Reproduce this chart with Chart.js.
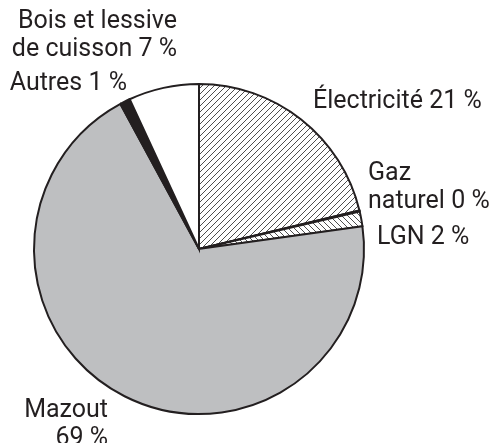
<!DOCTYPE html>
<html>
<head>
<meta charset="utf-8">
<script src="https://cdn.jsdelivr.net/npm/chart.js@4.4.1/dist/chart.umd.min.js"></script>
<style>
  html, body { margin: 0; padding: 0; background: #fff; }
  #wrap { width: 496px; height: 443px; position: relative; }
</style>
</head>
<body>
<div id="wrap"><canvas id="energy-pie"></canvas></div>
<script>
// Parts de consommation d'énergie (%), dans le sens horaire depuis midi
const categories = ['Électricité', 'Gaz naturel', 'LGN', 'Mazout', 'Autres', 'Bois et lessive de cuisson'];
const shares = [21.25, 0.1, 1.45, 69.3, 1.0, 6.9];
const shownPct = [21, 0, 2, 69, 1, 7];
// Texte des étiquettes, ligne par ligne
const labelLines = [
    ['Électricité ' + shownPct[0] + ' %'],
    ['Gaz', 'naturel ' + shownPct[1] + ' %'],
    ['LGN ' + shownPct[2] + ' %'],
    ['Mazout', shownPct[3] + ' %'],
    ['Autres ' + shownPct[4] + ' %'],
    ['Bois et lessive', 'de cuisson ' + shownPct[5] + ' %']
];

// Position des étiquettes par rapport au centre du camembert
const labelPlace = [
    { dx: 114, dy: -141, align: 'left' },
    { dx: 169, dy: -69, align: 'left' },
    { dx: 178, dy: -5, align: 'left' },
    { dx: -91, dy: 168, align: 'right' },
    { dx: -72, dy: -159, align: 'right' },
    { dx: -22, dy: -221, align: 'right' }
];

function hatch(size, dir) {
    const c = document.createElement('canvas');
    c.width = size; c.height = size;
    const g = c.getContext('2d');
    g.fillStyle = '#fff';
    g.fillRect(0, 0, size, size);
    g.strokeStyle = '#3a3a3a';
    g.lineWidth = 0.9;
    g.beginPath();
    if (dir === '/') {
        g.moveTo(-1, size + 1); g.lineTo(size + 1, -1);
        g.moveTo(-1, 1); g.lineTo(1, -1);
        g.moveTo(size - 1, size + 1); g.lineTo(size + 1, size - 1);
    } else {
        g.moveTo(-1, -1); g.lineTo(size + 1, size + 1);
        g.moveTo(size - 1, -1); g.lineTo(size + 1, 1);
        g.moveTo(-1, size - 1); g.lineTo(1, size + 1);
    }
    g.stroke();
    return g.createPattern(c, 'repeat');
}

const fills = [hatch(6, '/'), '#231f20', hatch(6, '\\'), '#bebfc1', '#231f20', '#ffffff'];

const sliceLabels = {
    id: 'sliceLabels',
    afterDraw(chart) {
        const arc = chart.getDatasetMeta(0).data[0];
        const ctx = chart.ctx;
        ctx.save();
        ctx.font = '25px Roboto';
        ctx.fillStyle = '#231f20';
        ctx.textBaseline = 'alphabetic';
        labelLines.forEach((lines, i) => {
            const p = labelPlace[i];
            ctx.textAlign = p.align;
            lines.forEach((t, j) => ctx.fillText(t, arc.x + p.dx, arc.y + p.dy + j * 28));
        });
        ctx.restore();
    }
};

const ctx = document.getElementById('energy-pie').getContext('2d');
new Chart(ctx, {
    type: 'pie',
    data: {
        labels: categories,
        datasets: [{
            data: shares,
            backgroundColor: fills,
            borderColor: '#231f20',
            borderWidth: 2,
            borderJoinStyle: 'miter'
        }]
    },
    options: {
        responsive: true,
        maintainAspectRatio: false,
        animation: false,
        layout: { padding: { left: 33, right: 131, top: 83, bottom: 28 } },
        plugins: {
            legend: { display: false },
            tooltip: { enabled: false }
        }
    },
    plugins: [sliceLabels]
});
</script>
</body>
</html>
